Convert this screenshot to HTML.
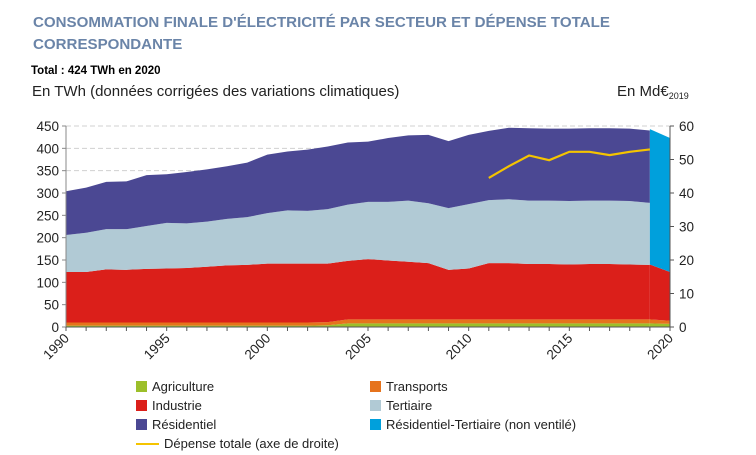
<!DOCTYPE html>
<html><head><meta charset="utf-8">
<style>
body{margin:0;background:#fff;width:756px;height:455px;overflow:hidden;font-family:"Liberation Sans",Arial,sans-serif;}
svg{position:absolute;left:0;top:0}
</style></head>
<body>
<svg id="c" width="756" height="455">
<text x="33" y="27" font-size="15.1" font-weight="bold" fill="#6a84a8">CONSOMMATION FINALE D'ÉLECTRICITÉ PAR SECTEUR ET DÉPENSE TOTALE</text>
<text x="33" y="49" font-size="15.1" font-weight="bold" fill="#6a84a8">CORRESPONDANTE</text>
<text x="31" y="74" font-size="11.5" font-weight="bold" fill="#000">Total : 424 TWh en 2020</text>
<text x="32" y="96" font-size="15" fill="#222">En TWh (données corrigées des variations climatiques)</text>
<text x="617" y="96" font-size="15" fill="#222">En Md€<tspan font-size="9" dy="3">2019</tspan></text>
<g id="plot"></g>
<g id="legend" font-size="13" fill="#222"></g>
</svg>
<script>
const years=[];for(let y=1990;y<=2019;y++)years.push(y);
const agriculture=[3,3,3,3,3,3,3,3,3,3,3,3,3,4,8,8,8,8,8,8,8,8,8,8,8,8,8,8,8,8];
const transports=[7,7,7,7,7,7,7,7,7,7,7,7,7,7,9,9,9,9,9,9,9,9,9,9,9,9,9,9,9,9];
const industrie=[113,113,119,118,120,121,122,125,128,129,132,132,132,131,131,135,132,129,126,111,114,126,126,124,124,123,124,124,123,122];
const tertiaire=[83,88,90,91,96,102,100,101,104,107,113,119,118,122,126,128,131,137,134,138,144,141,143,142,142,142,142,142,142,139];
const residentiel=[98,101,106,107,114,109,115,117,118,122,131,132,137,140,139,135,143,146,153,150,155,155,160,162,161,162,162,162,162,162];
const nvYears=[2019,2020];
const nvTop=[443,423];
const nvBottom=[140,123];
const depYears=[2011,2012,2013,2014,2015,2016,2017,2018,2019];
const depense=[44.5,48,51.2,49.8,52.3,52.3,51.3,52.3,53];
const yTicksL=[0,50,100,150,200,250,300,350,400,450];
const yTicksR=[0,10,20,30,40,50,60];
const xLabels=[1990,1995,2000,2005,2010,2015,2020];

const X0=66,X1=670,Y0=327,Y1=126;
const xs=y=>X0+(y-1990)*(X1-X0)/30;
const yl=v=>Y0-v*(Y0-Y1)/450;
const yr=v=>Y0-v*(Y0-Y1)/60;
const NS='http://www.w3.org/2000/svg';
const plot=document.getElementById('plot');
function mk(t,a,p){const e=document.createElementNS(NS,t);for(const k in a)e.setAttribute(k,a[k]);(p||plot).appendChild(e);return e;}

yTicksL.forEach(v=>{if(v>0){const g=mk('line',{x1:X0,x2:X1,y1:yl(v),y2:yl(v),stroke:'#d0d0d0','stroke-dasharray':'5,3'});

}});

const series=[[agriculture,'#9cbf2a','agriculture'],[transports,'#e6731c','transports'],[industrie,'#db1f1a','industrie'],[tertiaire,'#b1cad5','tertiaire'],[residentiel,'#4b4893','residentiel']];
let base=years.map(()=>0);
series.forEach(([vals,col,nm])=>{
  const top=base.map((b,i)=>b+vals[i]);
  let d='M'+years.map((y,i)=>xs(y)+','+yl(top[i])).join(' L');
  for(let i=years.length-1;i>=0;i--)d+=' L'+xs(years[i])+','+yl(base[i]);
  const p=mk('path',{d:d+'Z',fill:col});
  
  
  base=top;
});
{
  const i=years.length-1;
  const a19=agriculture[i],t19=a19+transports[i];
  const pa=mk('path',{d:`M${xs(2019)},${yl(a19)} L${xs(2020)},${yl(7)} L${xs(2020)},${yl(0)} L${xs(2019)},${yl(0)}Z`,fill:'#9cbf2a'});
  
  
  const pt=mk('path',{d:`M${xs(2019)},${yl(t19)} L${xs(2020)},${yl(14)} L${xs(2020)},${yl(7)} L${xs(2019)},${yl(a19)}Z`,fill:'#e6731c'});
  
  
  const pi=mk('path',{d:`M${xs(2019)},${yl(nvBottom[0])} L${xs(2020)},${yl(nvBottom[1])} L${xs(2020)},${yl(14)} L${xs(2019)},${yl(t19)}Z`,fill:'#db1f1a'});
  
  
}
const nv=mk('path',{d:`M${xs(nvYears[0])},${yl(nvTop[0])} L${xs(nvYears[1])},${yl(nvTop[1])} L${xs(nvYears[1])},${yl(nvBottom[1])} L${xs(nvYears[0])},${yl(nvBottom[0])}Z`,fill:'#00a0dc'});



const ln=mk('polyline',{points:depYears.map((y,i)=>xs(y)+','+yr(depense[i])).join(' '),fill:'none',stroke:'#f5c400','stroke-width':2.2});



const axL=mk('line',{x1:X0,x2:X0,y1:Y1,y2:Y0,stroke:'#888'});


const axR=mk('line',{x1:X1,x2:X1,y1:Y1,y2:Y0,stroke:'#555'});


const axB=mk('line',{x1:X0,x2:X1,y1:Y0,y2:Y0,stroke:'#555'});


yTicksL.forEach(v=>{
  mk('line',{x1:X0-4,x2:X0,y1:yl(v),y2:yl(v),stroke:'#888'});
  const t=mk('text',{x:X0-7,y:yl(v)+5,'text-anchor':'end','font-size':13.5,fill:'#222'});t.textContent=v;
  
  
});
yTicksR.forEach(v=>{
  mk('line',{x1:X1,x2:X1+4,y1:yr(v),y2:yr(v),stroke:'#555'});
  const t=mk('text',{x:X1+9,y:yr(v)+5,'font-size':13.5,fill:'#222'});t.textContent=v;
  
  
});
for(let y=1990;y<=2020;y++)mk('line',{x1:xs(y),x2:xs(y),y1:Y0,y2:Y0+4,stroke:'#555'});
xLabels.forEach(y=>{
  const x=xs(y),yy=Y0+8;
  const t=mk('text',{x:x+4,y:yy+4,'text-anchor':'end','font-size':13.5,fill:'#222',transform:`rotate(-45 ${x+4} ${yy+4})`});t.textContent=y;
  
  
});

const lg=document.getElementById('legend');
const items=[['Agriculture','#9cbf2a',136,391],['Transports','#e6731c',370,391],['Industrie','#db1f1a',136,410],['Tertiaire','#b1cad5',370,410],['Résidentiel','#4b4893',136,429],['Résidentiel-Tertiaire (non ventilé)','#00a0dc',370,429]];
items.forEach(([lab,col,x,y])=>{
  const g=mk('g',{},lg);
  
  
  mk('rect',{x:x,y:y-10,width:11,height:11,fill:col},g);
  const t=mk('text',{x:x+16,y:y},g);t.textContent=lab;
});
{
  const g=mk('g',{},lg);
  
  
  mk('line',{x1:136,x2:159,y1:444,y2:444,stroke:'#f5c400','stroke-width':2},g);
  const t=mk('text',{x:164,y:448},g);t.textContent='Dépense totale (axe de droite)';
}
</script>
</body></html>
